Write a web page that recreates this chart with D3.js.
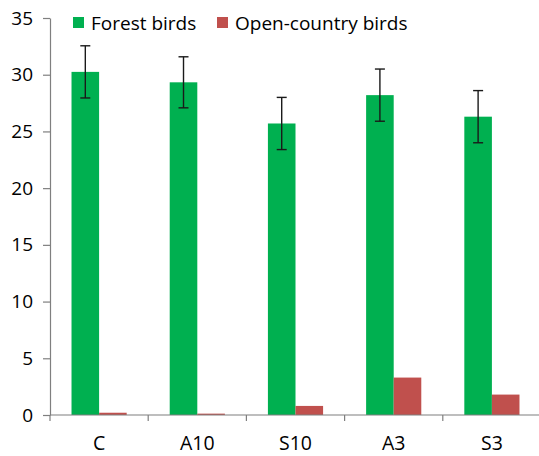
<!DOCTYPE html>
<html>
<head>
<meta charset="utf-8">
<script src="https://cdn.jsdelivr.net/npm/d3@7"></script>
<style>
  html, body { margin: 0; padding: 0; background: #fff; }
  svg { display: block; font-family: "Open Sans", Lato, sans-serif; }
</style>
</head>
<body>
<svg id="chart" width="539" height="456"></svg>
<script>
// Site categories
const categories = ["C", "A10", "S10", "A3", "S3"];
// Series
const seriesNames = ["Forest birds", "Open-country birds"];
const forestBirds = [30.25, 29.33, 25.7, 28.2, 26.3];
const forestErr = [2.3, 2.25, 2.3, 2.3, 2.3];
const openBirds = [0.2, 0.12, 0.8, 3.3, 1.8];
// Y ticks
const yTicks = [0, 5, 10, 15, 20, 25, 30, 35];

const colors = ["#00B050", "#C0504D"];
const fontFamily = "'Open Sans', Lato, sans-serif";

const svg = d3.select("#chart");
const margin = { left: 50, right: -2, top: 18, bottom: 41 };
const W = 539, H = 456;

const x = d3.scaleBand()
  .domain(categories)
  .range([margin.left, W - margin.right])
  .paddingInner(0).paddingOuter(0);

const inner = d3.scaleBand()
  .domain(seriesNames)
  .range([0, x.bandwidth()])
  .paddingOuter(0.78).paddingInner(0);

const y = d3.scaleLinear().domain([0, 35]).range([H - margin.bottom, margin.top]);

// Bars
const rows = categories.map((c, i) => ({ c, vals: [forestBirds[i], openBirds[i]], err: forestErr[i] }));

const groups = svg.append("g").selectAll("g").data(rows).join("g")
  .attr("transform", d => `translate(${x(d.c)},0)`);

groups.selectAll("rect")
  .data(d => d.vals.map((v, k) => ({ v, k })))
  .join("rect")
  .attr("x", d => inner(seriesNames[d.k]))
  .attr("width", inner.bandwidth())
  .attr("y", d => y(d.v))
  .attr("height", d => y(0) - y(d.v))
  .attr("fill", d => colors[d.k]);

// Error bars on the forest series
const eb = groups.append("g")
  .attr("stroke", "#1a1a1a").attr("stroke-width", 1.4);
const cx = inner(seriesNames[0]) + inner.bandwidth() / 2;
eb.append("line")
  .attr("x1", cx).attr("x2", cx)
  .attr("y1", d => y(d.vals[0] + d.err))
  .attr("y2", d => y(d.vals[0] - d.err));
eb.append("line")
  .attr("x1", cx - 5).attr("x2", cx + 5)
  .attr("y1", d => y(d.vals[0] + d.err))
  .attr("y2", d => y(d.vals[0] + d.err));
eb.append("line")
  .attr("x1", cx - 5).attr("x2", cx + 5)
  .attr("y1", d => y(d.vals[0] - d.err))
  .attr("y2", d => y(d.vals[0] - d.err));

// Y axis
const yAxis = svg.append("g")
  .attr("transform", `translate(${margin.left},0)`)
  .call(d3.axisLeft(y).tickValues(yTicks).tickSize(7).tickPadding(10).tickSizeOuter(0));
yAxis.select(".domain").attr("stroke", "#7f7f7f").attr("stroke-width", 1.2);
yAxis.selectAll(".tick line").attr("stroke", "#7f7f7f").attr("stroke-width", 1.2);
yAxis.selectAll(".tick text").attr("font-size", 19).attr("fill", "#000")
  .attr("font-family", fontFamily);

// X axis with ticks at category boundaries
const xAxis = svg.append("g")
  .attr("transform", `translate(0,${y(0)})`);
xAxis.append("line")
  .attr("x1", margin.left).attr("x2", W)
  .attr("stroke", "#7f7f7f").attr("stroke-width", 1.2);
const bounds = categories.map(c => x(c)).concat([x(categories[categories.length - 1]) + x.bandwidth()]);
xAxis.selectAll("line.b").data(bounds).join("line").attr("class", "b")
  .attr("x1", d => d).attr("x2", d => d).attr("y1", 0).attr("y2", 6)
  .attr("stroke", "#7f7f7f").attr("stroke-width", 1.2);
xAxis.selectAll("text").data(categories).join("text")
  .attr("x", d => x(d) + x.bandwidth() / 2)
  .attr("y", 35)
  .attr("text-anchor", "middle")
  .attr("font-size", 19.5)
  .attr("fill", "#000")
  .text(d => d);

// Legend
const legendX = [73, 217];
const legend = svg.append("g").selectAll("g").data(seriesNames).join("g")
  .attr("transform", (d, i) => `translate(${legendX[i]},17)`);
legend.append("rect").attr("width", 11).attr("height", 11)
  .attr("fill", (d, i) => colors[i]);
legend.append("text").attr("x", 18).attr("y", 12.5)
  .attr("font-size", 19).attr("fill", "#000")
  .text(d => d);
</script>
</body>
</html>
